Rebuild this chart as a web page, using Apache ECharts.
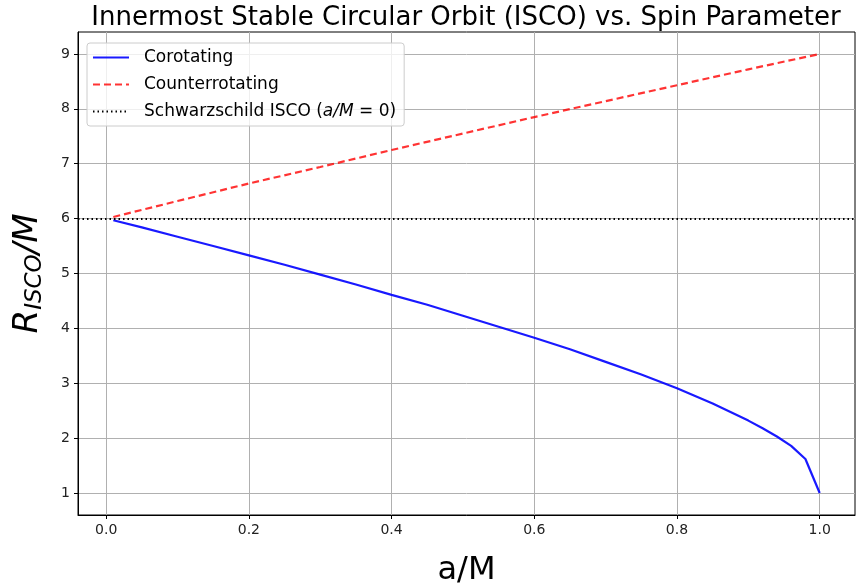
<!DOCTYPE html>
<html>
<head>
<meta charset="utf-8">
<script src="https://cdn.jsdelivr.net/npm/echarts@6/dist/echarts.min.js"></script>
<style>
  html, body { margin: 0; padding: 0; background: #fff; }
  #chart { width: 857px; height: 588px; }
</style>
</head>
<body>
<div id="chart"></div>
<script>
// spin values and ISCO radii
var spinCo = [0.01, 0.05, 0.1, 0.15, 0.2, 0.25, 0.3, 0.35, 0.4, 0.45, 0.5, 0.55, 0.6,
              0.65, 0.7, 0.75, 0.8, 0.85, 0.9, 0.92, 0.94, 0.96, 0.98, 1.0];
var rCo = [5.97, 5.84, 5.67, 5.50, 5.33, 5.16, 4.98, 4.80, 4.61, 4.43, 4.23, 4.03, 3.83,
           3.62, 3.39, 3.16, 2.91, 2.63, 2.32, 2.18, 2.03, 1.86, 1.62, 1.00];
var spinCounter = [0.01, 0.1, 0.2, 0.3, 0.4, 0.5, 0.6, 0.7, 0.8, 0.9, 1.0];
var rCounter = [6.03, 6.32, 6.64, 6.94, 7.25, 7.55, 7.85, 8.14, 8.43, 8.72, 9.0];
var schwarzschild = 6;
var xTicks = [0.0, 0.2, 0.4, 0.6, 0.8, 1.0];
var yTicks = [1, 2, 3, 4, 5, 6, 7, 8, 9];

var font = 'DejaVu Sans';

function pairs(xs, ys) {
  return xs.map(function (x, i) { return [x, ys[i]]; });
}

var chart = echarts.init(document.getElementById('chart'));
var option = {
  animation: false,
  title: {
    text: 'Innermost Stable Circular Orbit (ISCO) vs. Spin Parameter',
    left: 461, top: 0, textAlign: 'center',
    textStyle: { fontFamily: font, fontSize: 26, fontWeight: 'normal', color: '#000' }
  },
  grid: {
    left: 78, top: 32, width: 777, height: 483,
    outerBoundsMode: 'none',
    show: true, borderColor: '#000', borderWidth: 1
  },
  legend: {
    orient: 'vertical', left: 87, top: 43,
    padding: [6, 8, 6, 5], itemGap: 10,
    itemWidth: 36, itemHeight: 18,
    itemStyle: { opacity: 0 },
    backgroundColor: 'rgba(255,255,255,0.8)',
    borderColor: '#ccc', borderWidth: 1, borderRadius: 3,
    textStyle: {
      fontFamily: font, fontSize: 17, color: '#000', padding: [0, 0, 0, 10],
      rich: {
        n: { fontFamily: font, fontSize: 17, color: '#000' },
        i: { fontFamily: font, fontSize: 17, fontStyle: 'italic', color: '#000' }
      }
    },
    formatter: function (name) {
      if (name.indexOf('Schwarzschild') === 0) {
        return '{n|Schwarzschild ISCO (}{i|a/M}{n| = 0)}';
      }
      return name;
    },
    data: [
      { name: 'Corotating' },
      { name: 'Counterrotating' },
      { name: 'Schwarzschild ISCO (a/M = 0)' }
    ]
  },
  xAxis: {
    type: 'value', min: -0.0395, max: 1.0495,
    name: 'a/M', nameLocation: 'middle', nameGap: 40,
    nameTextStyle: { fontFamily: font, fontSize: 32, color: '#000' },
    axisLine: { onZero: false, lineStyle: { color: '#000' } },
    axisTick: { customValues: xTicks, length: 4, lineStyle: { color: '#000' } },
    axisLabel: {
      customValues: xTicks, fontFamily: font, fontSize: 14, color: '#222', margin: 8,
      formatter: function (v) { return v.toFixed(1); }
    },
    splitLine: { show: true, lineStyle: { color: '#b0b0b0', width: 1 } }
  },
  yAxis: {
    type: 'value', min: 0.6, max: 9.4,
    name: '{it|R}{sub|ISCO}{it|/M}', nameLocation: 'middle', nameGap: 31, nameRotate: 90,
    nameTextStyle: {
      rich: {
        it: { fontFamily: font, fontSize: 34, fontStyle: 'italic', color: '#000' },
        sub: { fontFamily: font, fontSize: 23, fontStyle: 'italic', color: '#000', padding: [14, 0, 0, 0] }
      }
    },
    axisLine: { show: true, onZero: false, lineStyle: { color: '#000' } },
    axisTick: { show: true, customValues: yTicks, length: 4, lineStyle: { color: '#000' } },
    axisLabel: { customValues: yTicks, fontFamily: font, fontSize: 14, color: '#222', margin: 8 },
    splitLine: { show: true, lineStyle: { color: '#b0b0b0', width: 1 } }
  },
  series: [
    {
      name: 'Corotating', type: 'line', symbol: 'none',
      data: pairs(spinCo, rCo),
      itemStyle: { color: 'rgba(0,0,255,0.9)' },
      lineStyle: { color: 'rgba(0,0,255,0.9)', width: 2.2 }
    },
    {
      name: 'Counterrotating', type: 'line', symbol: 'none',
      data: pairs(spinCounter, rCounter),
      itemStyle: { color: 'rgba(255,0,0,0.8)' },
      lineStyle: { color: 'rgba(255,0,0,0.8)', width: 2.2, type: [7, 4] }
    },
    {
      name: 'Schwarzschild ISCO (a/M = 0)', type: 'line', symbol: 'none',
      data: [],
      itemStyle: { color: '#000' },
      lineStyle: { color: '#000', width: 2, type: [1.5, 3] },
      markLine: {
        silent: true, symbol: 'none', label: { show: false },
        lineStyle: { color: '#000', width: 2, type: [1.5, 3] },
        data: [{ yAxis: schwarzschild }]
      }
    }
  ]
};
chart.setOption(option);
</script>
</body>
</html>
